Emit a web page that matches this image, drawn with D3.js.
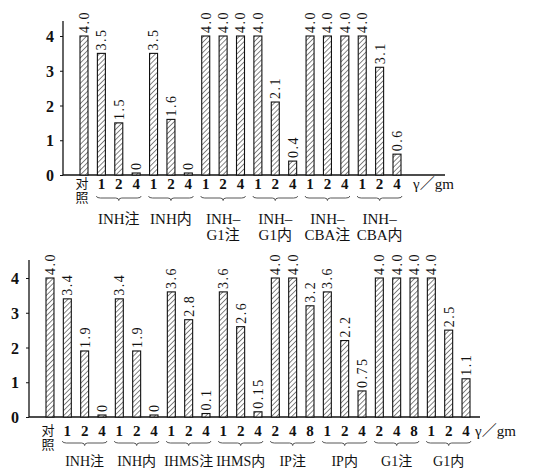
<!DOCTYPE html>
<html><head><meta charset="utf-8">
<script src="https://cdn.jsdelivr.net/npm/d3@7/dist/d3.min.js"></script>
<style>
html,body{margin:0;padding:0;background:#fff;}
svg text{font-family:"Liberation Serif","DejaVu Serif","Noto Sans CJK SC",serif;fill:#111;}
</style></head>
<body><svg id="chart" width="535" height="470"></svg>
<script>
// ---------- data ----------
const controlLabel = ["对", "照"];
const unitLabel = "γ／gm";
const yTicks = [0, 1, 2, 3, 4];

const topControl = 4.0;
const topGroups = [["INH注"], ["INH内"], ["INH–", "G1注"], ["INH–", "G1内"], ["INH–", "CBA注"], ["INH–", "CBA内"]];
const topDoses = [[1, 2, 4], [1, 2, 4], [1, 2, 4], [1, 2, 4], [1, 2, 4], [1, 2, 4]];
const topValues = [[3.5, 1.5, 0], [3.5, 1.6, 0], [4.0, 4.0, 4.0], [4.0, 2.1, 0.4], [4.0, 4.0, 4.0], [4.0, 3.1, 0.6]];

const botControl = 4.0;
const botGroups = [["INH注"], ["INH内"], ["IHMS注"], ["IHMS内"], ["IP注"], ["IP内"], ["G1注"], ["G1内"]];
const botDoses = [[1, 2, 4], [1, 2, 4], [1, 2, 4], [1, 2, 4], [2, 4, 8], [1, 2, 4], [2, 4, 8], [1, 2, 4]];
const botValues = [[3.4, 1.9, 0], [3.4, 1.9, 0], [3.6, 2.8, 0.1], [3.6, 2.6, 0.15], [4.0, 4.0, 3.2], [3.6, 2.2, 0.75], [4.0, 4.0, 4.0], [4.0, 2.5, 1.1]];

// ---------- drawing ----------
const svg = d3.select("#chart");
const defs = svg.append("defs");
const pat = defs.append("pattern").attr("id", "hatch").attr("patternUnits", "userSpaceOnUse")
  .attr("width", 3.6).attr("height", 3.6).attr("patternTransform", "rotate(45)");
pat.append("rect").attr("width", 3.6).attr("height", 3.6).attr("fill", "#fff");
pat.append("line").attr("x1", 0).attr("y1", 0).attr("x2", 0).attr("y2", 3.6)
  .attr("stroke", "#222").attr("stroke-width", 1.1);

function fmt(v) { return v === 0 ? "0" : (Number.isInteger(v) ? v.toFixed(1) : String(v)); }

function panel(cfg) {
  const items = [{key: "c", value: cfg.control, dose: null, g: -1}];
  cfg.groups.forEach((g, gi) => cfg.doses[gi].forEach((d, di) =>
    items.push({key: gi + "-" + di, value: cfg.values[gi][di], dose: d, g: gi, di: di})));

  const x = d3.scaleBand().domain(items.map(d => d.key)).range(cfg.xRange)
    .paddingInner(0.54).paddingOuter(0);
  const y = d3.scaleLinear().domain([0, 4]).range(cfg.yRange);
  const g = svg.append("g");

  // y axis
  const ya = d3.axisLeft(y).tickValues(yTicks).tickFormat(d3.format("d"))
    .tickSizeInner(3).tickSizeOuter(0).tickPadding(cfg.tickPad);
  const yg = g.append("g").attr("transform", `translate(${cfg.axisX},0)`).call(ya);
  yg.select(".domain").remove();
  yg.selectAll("line").attr("stroke", "#111");
  yg.selectAll("text").style("font-size", "16px").style("font-weight", "bold").attr("dy", "0.35em");
  g.append("line").attr("x1", cfg.axisX).attr("x2", cfg.axisX)
    .attr("y1", y(0)).attr("y2", cfg.yTop).attr("stroke", "#111").attr("stroke-width", 1.3);
  g.append("line").attr("x1", cfg.axisX).attr("x2", cfg.xEnd)
    .attr("y1", y(0)).attr("y2", y(0)).attr("stroke", "#111").attr("stroke-width", 1.6);

  // bars
  g.selectAll("rect.bar").data(items).join("rect").attr("class", "bar")
    .attr("x", d => x(d.key)).attr("width", x.bandwidth())
    .attr("y", d => y(0) - Math.max(y(0) - y(d.value), 2))
    .attr("height", d => Math.max(y(0) - y(d.value), 2))
    .attr("fill", "url(#hatch)").attr("stroke", "#111").attr("stroke-width", 1.1);

  // value labels (rotated)
  g.selectAll("text.val").data(items).join("text").attr("class", "val")
    .attr("transform", d => `translate(${x(d.key) + x.bandwidth() / 2},${y(0) - Math.max(y(0) - y(d.value), 2) - 3}) rotate(-90)`)
    .attr("text-anchor", "start").attr("dy", "0.35em")
    .style("font-size", "14px").style("letter-spacing", "1.5px")
    .text(d => fmt(d.value));

  // dose labels
  g.selectAll("text.dose").data(items.filter(d => d.dose !== null)).join("text").attr("class", "dose")
    .attr("x", d => x(d.key) + x.bandwidth() / 2).attr("y", cfg.doseY)
    .attr("text-anchor", "middle").style("font-size", "15px").style("font-weight", "bold").text(d => d.dose);

  // control label
  const cx = x("c") + x.bandwidth() / 2;
  controlLabel.forEach((t, i) => g.append("text").attr("x", cx - 2).attr("y", cfg.doseY - 1 + i * 14)
    .attr("text-anchor", "middle").style("font-size", "13px").text(t));

  // unit
  g.append("text").attr("x", cfg.unitX).attr("y", cfg.doseY).style("font-size", "15px").text(unitLabel);

  // braces and group labels
  cfg.groups.forEach((lab, gi) => {
    const a = x(gi + "-0") - 1, b = x(gi + "-2") + x.bandwidth() + 1;
    const m = x(gi + "-1") + x.bandwidth() / 2, yy = cfg.braceY;
    g.append("path").attr("d",
      `M${a},${yy - 2} Q${a},${yy} ${a + 4},${yy} L${m - 3},${yy} Q${m},${yy} ${m},${yy + 2.5} Q${m},${yy} ${m + 3},${yy} L${b - 4},${yy} Q${b},${yy} ${b},${yy - 2}`)
      .attr("fill", "none").attr("stroke", "#444").attr("stroke-width", 0.9);
    lab.forEach((t, li) => g.append("text").attr("x", m).attr("y", cfg.groupY + li * cfg.lineGap)
      .attr("text-anchor", "middle").style("font-size", cfg.groupFont).text(t));
  });
}

panel({control: topControl, groups: topGroups, doses: topDoses, values: topValues,
  xRange: [80, 401], yRange: [175, 36], axisX: 63, yTop: 21, xEnd: 445, tickPad: 6,
  doseY: 189, braceY: 198, groupY: 224, groupFont: "15px", lineGap: 16, unitX: 413});

panel({control: botControl, groups: botGroups, doses: botDoses, values: botValues,
  xRange: [46, 470], yRange: [417, 278], axisX: 29, yTop: 260, xEnd: 480, tickPad: 7,
  doseY: 436, braceY: 443, groupY: 466, groupFont: "14px", lineGap: 15, unitX: 475});
</script></body></html>
